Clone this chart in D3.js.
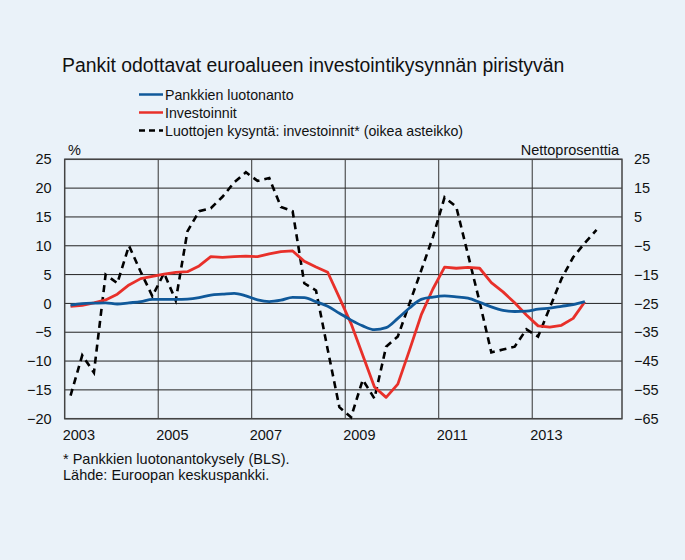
<!DOCTYPE html>
<html>
<head>
<meta charset="utf-8">
<script src="https://cdn.jsdelivr.net/npm/d3@7"></script>
<style>
  html, body { margin: 0; padding: 0; background: #eaf2f9; }
  svg { display: block; font-family: "Liberation Sans", Arial, sans-serif; }
</style>
</head>
<body>
<svg id="chart" width="685" height="560"></svg>
<script>
// quarterly data, 2003Q1 ... (positions at mid-quarter)
const startYear = 2003;

// Pankkien luotonanto (% , left axis), 2003Q1-2014Q1
const lending = [
  -0.3, -0.05, 0.05, 0.1,
  -0.1, 0.1, 0.3, 0.7,
  0.7, 0.7, 0.75, 1.0,
  1.45, 1.6, 1.75, 1.3,
  0.6, 0.3, 0.55, 1.05,
  1.0, 0.3, -0.5, -1.7,
  -2.9, -3.9, -4.55, -4.2,
  -2.6, -0.8, 0.7, 1.1,
  1.3, 1.15, 0.9, 0.2,
  -0.6, -1.2, -1.4, -1.35,
  -1.0, -0.8, -0.5, -0.2,
  0.3
];

// Investoinnit (%, left axis), 2003Q1-2014Q1
const investment = [
  -0.5, -0.35, 0.1, 0.6,
  1.6, 3.2, 4.3, 4.7,
  5.1, 5.4, 5.5, 6.5,
  8.1, 8.0, 8.1, 8.2,
  8.1, 8.6, 9.0, 9.1,
  7.3, 6.3, 5.4, 1.0,
  -3.5, -9.0, -14.5, -16.3,
  -14.0, -8.1, -2.0, 2.5,
  6.3, 6.1, 6.25, 6.1,
  3.6, 2.0, 0.1, -2.0,
  -3.9, -4.1, -3.8, -2.6,
  0.3
];

// Luottojen kysyntä: investoinnit (nettoprosenttia, right axis), 2003Q1-2014Q2
const demand = [
  -57, -43, -49, -15,
  -18, -5, -14, -22.5,
  -14.5, -24, 0, 7,
  8, 12, 17, 20.5,
  17.5, 18.5, 8.5, 7,
  -18, -20.5, -41, -61,
  -64.5, -51.5, -58, -40,
  -36.5, -25, -13.6, -2,
  11.8, 8.5, -8, -24.5,
  -42, -41, -40, -34,
  -36.5, -26.5, -16.5, -9,
  -4, 0.5
];

const leftTicks = [25, 20, 15, 10, 5, 0, -5, -10, -15, -20];
const rightTicks = [25, 15, 5, -5, -15, -25, -35, -45, -55, -65];
const yearTicks = [2003, 2005, 2007, 2009, 2011, 2013];

const legendItems = [
  { label: "Pankkien luotonanto", color: "#10599a", dash: null },
  { label: "Investoinnit", color: "#e8302a", dash: null },
  { label: "Luottojen kysyntä: investoinnit* (oikea asteikko)", color: "#000", dash: "6,4" }
];

const svg = d3.select("#chart");

const plot = { left: 64.7, right: 622, top: 159.3, bottom: 418.7 };
const fontSize = 14.5;

const x = d3.scaleLinear().domain([2003, 2014.92]).range([plot.left, plot.right]);
const yL = d3.scaleLinear().domain([-20, 25]).range([plot.bottom, plot.top]);
const yR = d3.scaleLinear().domain([-65, 25]).range([plot.bottom, plot.top]);

const qx = i => x(startYear + (i + 0.5) / 4);

// background
svg.append("rect").attr("width", 685).attr("height", 560).attr("fill", "#eaf2f9");

// title
svg.append("text")
  .attr("x", 62).attr("y", 72)
  .attr("font-size", 19.4)
  .attr("fill", "#111")
  .text("Pankit odottavat euroalueen investointikysynnän piristyvän");

// legend
const leg = svg.append("g");
legendItems.forEach((d, i) => {
  const yy = 94.5 + i * 18;
  leg.append("line")
    .attr("x1", 139).attr("x2", 163)
    .attr("y1", yy).attr("y2", yy)
    .attr("stroke", d.color)
    .attr("stroke-width", 2.5)
    .attr("stroke-dasharray", d.dash);
  leg.append("text")
    .attr("x", 165).attr("y", yy + 5)
    .attr("font-size", 14.2)
    .attr("fill", "#111")
    .text(d.label);
});

// horizontal gridlines
svg.append("g")
  .selectAll("line")
  .data(leftTicks)
  .join("line")
  .attr("x1", plot.left).attr("x2", plot.right)
  .attr("y1", d => yL(d)).attr("y2", d => yL(d))
  .attr("stroke", "#222")
  .attr("stroke-width", 1);

// vertical gridlines
svg.append("g")
  .selectAll("line")
  .data(yearTicks.slice(1))
  .join("line")
  .attr("x1", d => x(d)).attr("x2", d => x(d))
  .attr("y1", plot.top).attr("y2", plot.bottom)
  .attr("stroke", "#333")
  .attr("stroke-width", 1);

// frame
svg.append("rect")
  .attr("x", plot.left).attr("y", plot.top)
  .attr("width", plot.right - plot.left)
  .attr("height", plot.bottom - plot.top)
  .attr("fill", "none")
  .attr("stroke", "#444")
  .attr("stroke-width", 1.5);

// axes
const leftAxis = svg.append("g")
  .attr("transform", `translate(${plot.left},0)`)
  .call(d3.axisLeft(yL).tickValues(leftTicks).tickSize(0).tickPadding(13));
const rightAxis = svg.append("g")
  .attr("transform", `translate(${plot.right},0)`)
  .call(d3.axisRight(yR).tickValues(rightTicks).tickSize(0).tickPadding(12));
const bottomAxis = svg.append("g")
  .attr("transform", `translate(0,${plot.bottom})`)
  .call(d3.axisBottom(x).tickValues(yearTicks).tickFormat(d3.format("d")).tickSize(0).tickPadding(11));

[leftAxis, rightAxis, bottomAxis].forEach(a => {
  a.select(".domain").remove();
  a.selectAll("text")
    .attr("font-family", "Liberation Sans, Arial, sans-serif")
    .attr("font-size", fontSize)
    .attr("fill", "#111");
});
bottomAxis.selectAll("text").attr("text-anchor", "start").attr("dx", -2.5);

// unit labels
svg.append("text")
  .attr("x", 68).attr("y", 155)
  .attr("font-size", fontSize).attr("fill", "#111")
  .text("%");
svg.append("text")
  .attr("x", 619).attr("y", 155)
  .attr("text-anchor", "end")
  .attr("font-size", fontSize).attr("fill", "#111")
  .text("Nettoprosenttia");

// series
const lineL = d3.line().x((d, i) => qx(i)).y(d => yL(d));
const lineLSmooth = d3.line().x((d, i) => qx(i)).y(d => yL(d)).curve(d3.curveMonotoneX);
const lineR = d3.line().x((d, i) => qx(i)).y(d => yR(d));

svg.append("path")
  .attr("d", lineR(demand))
  .attr("fill", "none")
  .attr("stroke", "#000")
  .attr("stroke-width", 2.6)
  .attr("stroke-dasharray", "7,5");

svg.append("path")
  .attr("d", lineL(investment))
  .attr("fill", "none")
  .attr("stroke", "#e8302a")
  .attr("stroke-width", 2.8)
  .attr("stroke-linejoin", "round");

svg.append("path")
  .attr("d", lineLSmooth(lending))
  .attr("fill", "none")
  .attr("stroke", "#10599a")
  .attr("stroke-width", 2.8)
  .attr("stroke-linejoin", "round");

// footnotes
svg.append("text")
  .attr("x", 63).attr("y", 464)
  .attr("font-size", fontSize).attr("fill", "#111")
  .text("* Pankkien luotonantokysely (BLS).");
svg.append("text")
  .attr("x", 63).attr("y", 480)
  .attr("font-size", fontSize).attr("fill", "#111")
  .text("Lähde: Euroopan keskuspankki.");
</script>
</body>
</html>
